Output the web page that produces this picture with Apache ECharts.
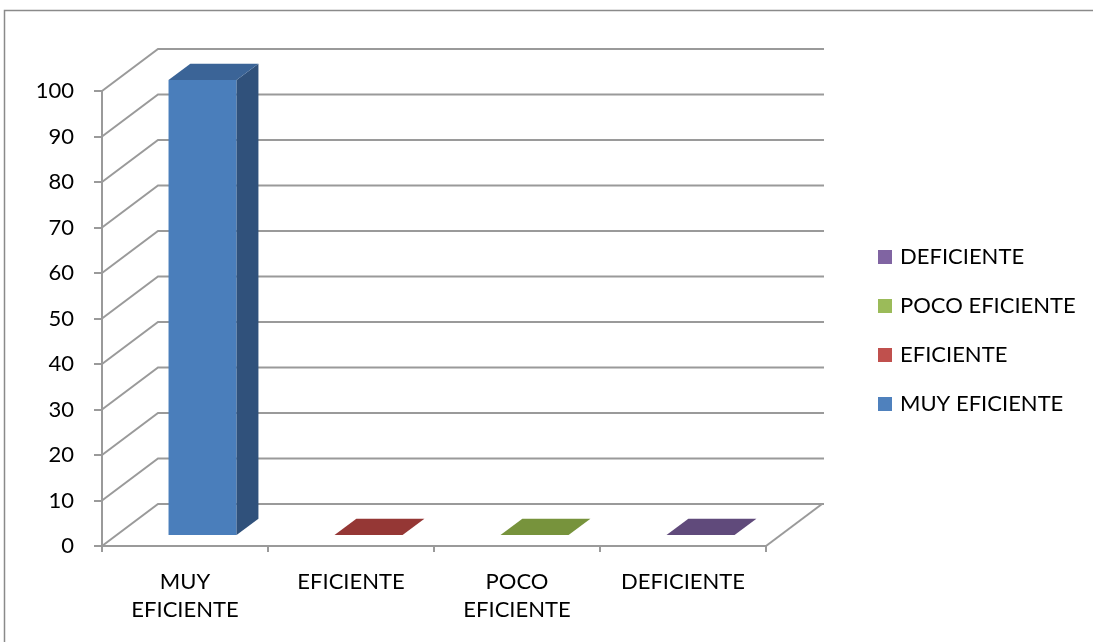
<!DOCTYPE html>
<html>
<head>
<meta charset="utf-8">
<title>Eficiencia</title>
<script src="https://cdn.jsdelivr.net/npm/echarts@6/dist/echarts.min.js"></script>
<style>
  html, body { margin: 0; padding: 0; background: #fff; }
  #chart { width: 1093px; height: 642px; }
</style>
</head>
<body>
<div id="chart"></div>
<script>
// Categories and the percentage for each one
const categories = ['MUY\nEFICIENTE', 'EFICIENTE', 'POCO\nEFICIENTE', 'DEFICIENTE'];
const seriesNames = ['MUY EFICIENTE', 'EFICIENTE', 'POCO EFICIENTE', 'DEFICIENTE'];
const values = [100, 0, 0, 0];
const yTicks = [0, 10, 20, 30, 40, 50, 60, 70, 80, 90, 100];

// Face colours for each bar: legend / front, side, top
const legendColors = ['#4F81BD', '#C0504D', '#9BBB59', '#8064A2'];
const frontColors = ['#4A7EBB', '#B94A48', '#8FB050', '#7A5F9A'];
const sideColors = ['#30517B', '#7E2F2D', '#5E7530', '#4E3C64'];
const topColors = ['#3B6497', '#953735', '#77933C', '#604A7B'];

const FONT = 'Lato, "Open Sans", sans-serif';
const FONT_SIZE = 22;
// Depth vector of the floor (front edge to back wall)
const DX = 56, DY = -42;
const FRONT_F = 0.26, DEPTH_F = 0.39;
const GRID_COLOR = '#9a9a9a';

const chart = echarts.init(document.getElementById('chart'), null, { renderer: 'canvas' });

// Perspective gridlines: diagonal on the side wall and horizontal line on the back wall
function renderGrid(params, api) {
  const cs = params.coordSys;
  const v = api.value(0);
  const y = api.coord([0, v])[1];
  const x0 = cs.x, x1 = cs.x + cs.width;
  const children = [
    { type: 'polyline', shape: { points: [[x0, y], [x0 + DX, y + DY], [x1 + DX + 2, y + DY]] },
      style: { stroke: GRID_COLOR, lineWidth: 2, fill: null } }
  ];
  if (v === 0) {
    children.push({ type: 'line', shape: { x1: x1, y1: y, x2: x1 + DX, y2: y + DY },
      style: { stroke: GRID_COLOR, lineWidth: 2 } });
  }
  return { type: 'group', children: children };
}

function makeBarRenderer(idx) {
  return function (params, api) {
    const cat = api.value(0), v = api.value(1);
    const base = api.coord([cat, 0]);
    const top = api.coord([cat, v]);
    const band = api.size([1, 0])[0];
    const w = band * 0.41;
    const cx = base[0] + 3 + FRONT_F * DX;
    const xa = cx - w / 2, xb = cx + w / 2;
    const yb = base[1] + FRONT_F * DY;
    const yt = top[1] + FRONT_F * DY;
    const dx = DEPTH_F * DX, dy = DEPTH_F * DY;
    const children = [];
    if (yb - yt > 0.5) {
      children.push({ type: 'rect', shape: { x: xa, y: yt, width: w, height: yb - yt },
        style: { fill: frontColors[idx] } });
      children.push({ type: 'polygon', shape: { points: [[xb, yt], [xb + dx, yt + dy], [xb + dx, yb + dy], [xb, yb]] },
        style: { fill: sideColors[idx] } });
    }
    children.push({ type: 'polygon', shape: { points: [[xa, yt], [xa + dx, yt + dy], [xb + dx, yt + dy], [xb, yt]] },
      style: { fill: topColors[idx] } });
    return { type: 'group', children: children };
  };
}

const barSeries = seriesNames.map(function (name, i) {
  return {
    name: name,
    type: 'custom',
    z: 5,
    itemStyle: { color: legendColors[i] },
    renderItem: makeBarRenderer(i),
    data: [[i, values[i]]]
  };
});

chart.setOption({
  animation: false,
  backgroundColor: '#fff',
  textStyle: { fontFamily: FONT },
  graphic: [
    { type: 'rect', shape: { x: 4.5, y: 10.5, width: 1200, height: 700 },
      style: { fill: null, stroke: '#8a8a8a', lineWidth: 1.5 }, z: 100 }
  ],
  grid: { left: 102, right: 327, top: 91, bottom: 96, containLabel: false },
  legend: {
    data: seriesNames.slice().reverse(),
    orient: 'vertical',
    left: 873,
    top: 241,
    itemWidth: 14,
    itemHeight: 14,
    itemGap: 27,
    icon: 'rect',
    selectedMode: false,
    textStyle: { fontFamily: FONT, fontSize: FONT_SIZE, color: '#000', padding: [0, 0, 0, 3] }
  },
  xAxis: {
    type: 'category',
    data: categories,
    boundaryGap: true,
    axisLine: { show: true, lineStyle: { color: GRID_COLOR, width: 2 } },
    axisTick: { show: true, length: 6, alignWithLabel: false, lineStyle: { color: GRID_COLOR, width: 2 } },
    axisLabel: { fontFamily: FONT, fontSize: FONT_SIZE, color: '#000', lineHeight: 28, margin: 22, interval: 0 },
    splitLine: { show: false }
  },
  yAxis: {
    type: 'value',
    min: 0,
    max: 100,
    interval: 10,
    axisLine: { show: true, lineStyle: { color: GRID_COLOR, width: 2 } },
    axisTick: { show: true, inside: false, length: 8, lineStyle: { color: GRID_COLOR, width: 2 } },
    axisLabel: { fontFamily: FONT, fontSize: FONT_SIZE, color: '#000', margin: 28 },
    splitLine: { show: false }
  },
  series: [
    {
      name: 'grid',
      type: 'custom',
      z: 1,
      silent: true,
      renderItem: renderGrid,
      data: yTicks.map(function (t) { return [t]; })
    }
  ].concat(barSeries)
});
</script>
</body>
</html>
